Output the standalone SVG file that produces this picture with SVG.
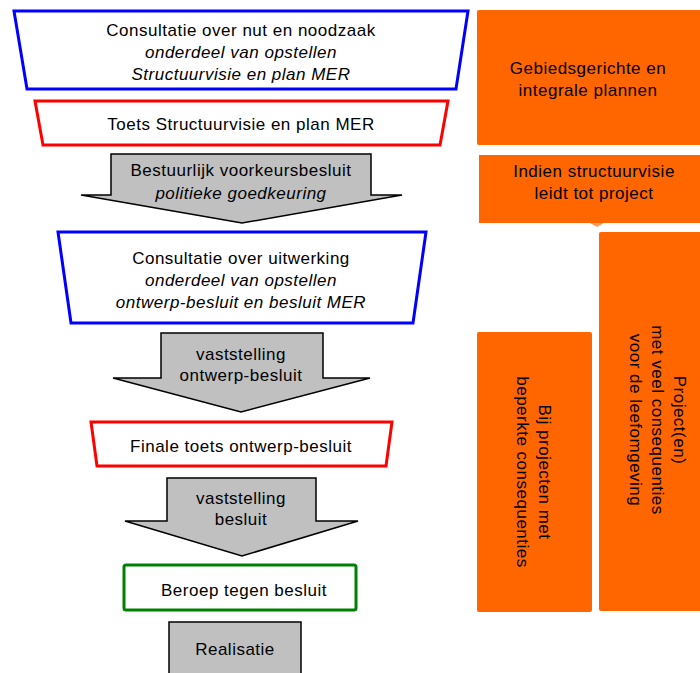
<svg xmlns="http://www.w3.org/2000/svg" width="700" height="673" viewBox="0 0 700 673">
<style>
text{font-family:"Liberation Sans",Arial,sans-serif;font-size:17px;letter-spacing:0.5px;fill:#000;text-anchor:middle}
.it{font-style:italic}
.blue{fill:#fff;stroke:#0000ff;stroke-width:3}
.red{fill:#fff;stroke:#ff0000;stroke-width:3}
.green{fill:#fff;stroke:#008000;stroke-width:3}
.gray{fill:#c0c0c0;stroke:#000;stroke-width:1.5;stroke-linejoin:miter}
.orange{fill:#ff6600}
</style>
<rect width="700" height="673" fill="#fff"/>
<g id="consultatie-nut">
<polygon class="blue" points="14,11 468,11 456,89 27,89"/>
<text x="241" y="36">Consultatie over nut en noodzaak</text>
<text class="it" x="241" y="58">onderdeel van opstellen</text>
<text class="it" x="241" y="80">Structuurvisie en plan MER</text>
</g>
<g id="toets-structuurvisie">
<polygon class="red" points="35,101 448,101 440,145 43,145"/>
<text x="241" y="130">Toets Structuurvisie en plan MER</text>
</g>
<g id="consultatie-uitwerking">
<polygon class="blue" points="58,232 426,232 413,323 71,323"/>
<text x="241" y="264">Consultatie over uitwerking</text>
<text class="it" x="241" y="286">onderdeel van opstellen</text>
<text class="it" x="241" y="308">ontwerp-besluit en besluit MER</text>
</g>
<g id="finale-toets">
<polygon class="red" points="91,422 392,422 386,466 97,466"/>
<text x="241" y="452">Finale toets ontwerp-besluit</text>
</g>
<g id="beroep">
<rect class="green" x="124" y="565" width="232" height="45" rx="2"/>
<text x="244" y="596">Beroep tegen besluit</text>
</g>
<g id="realisatie">
<rect class="gray" x="169" y="622" width="132" height="60"/>
<text x="235" y="655">Realisatie</text>
</g>
<g id="connectors">
<g id="arrow-voorkeursbesluit">
<polygon class="gray" points="111,154 371,154 371,195 402,195 242,223 81,195 111,195"/>
<text x="241" y="176">Bestuurlijk voorkeursbesluit</text>
<text class="it" x="241" y="199">politieke goedkeuring</text>
</g>
<g id="arrow-ontwerp-besluit">
<polygon class="gray" points="161,333 323,333 323,378 370,378 241,412 113,378 161,378"/>
<text x="241" y="360">vaststelling</text>
<text x="241" y="381">ontwerp-besluit</text>
</g>
<g id="arrow-besluit">
<polygon class="gray" points="167,478 316,478 316,521 358,521 242,556 125,521 167,521"/>
<text x="241" y="504">vaststelling</text>
<text x="241" y="525">besluit</text>
</g>
</g>
<g id="gebiedsgerichte">
<rect class="orange" x="477" y="10" width="230" height="135" rx="2"/>
<text x="588" y="74">Gebiedsgerichte en</text>
<text x="588" y="96">integrale plannen</text>
</g>
<g id="indien-structuurvisie">
<rect class="orange" x="479" y="155" width="230" height="68"/>
<polygon points="590,223 604,223 597,227" fill="#ff9a5a"/>
<text x="594" y="177">Indien structuurvisie</text>
<text x="594" y="199">leidt tot project</text>
</g>
<g id="projecten-veel">
<rect class="orange" x="599" y="232" width="110" height="379" rx="2"/>
<g transform="translate(652,420) rotate(90)">
<text x="0" y="-22">Project(en)</text>
<text x="0" y="0">met veel consequenties</text>
<text x="0" y="22">voor de leefomgeving</text>
</g>
</g>
<g id="projecten-beperkt">
<rect class="orange" x="477" y="332" width="115" height="280" rx="2"/>
<g transform="translate(528,472) rotate(90)">
<text x="0" y="-11">Bij projecten met</text>
<text x="0" y="11">beperkte consequenties</text>
</g>
</g>
</svg>
